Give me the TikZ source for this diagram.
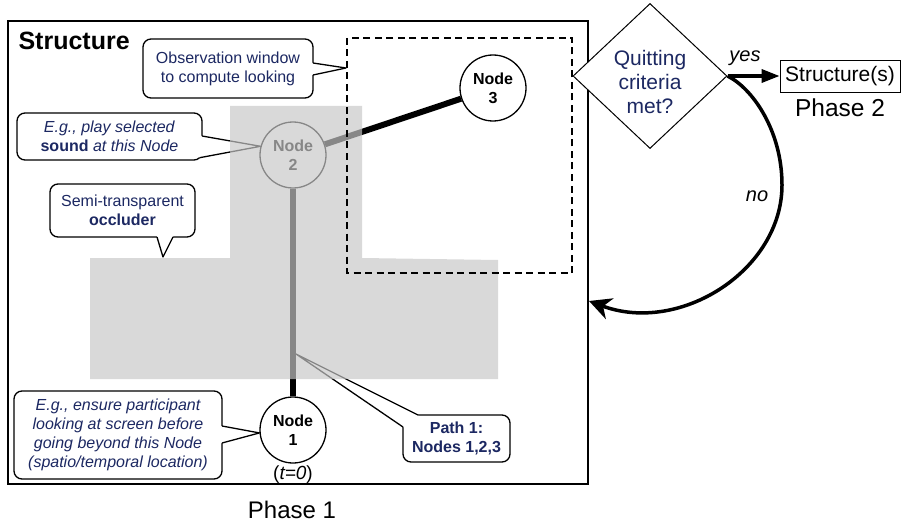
\documentclass[tikz,border=0pt]{standalone}
\usepackage{fontspec}
\setmainfont{Liberation Sans}
\usetikzlibrary{arrows.meta,shapes.geometric}
\definecolor{navy}{RGB}{28,40,98}
\definecolor{occl}{RGB}{199,199,199}
% balloon tail: #1 base point, #2 tip, #3 base point, #4/#5 the base points pushed inside the box
\newcommand\calltail[5]{%
  \fill[white] #4 -- #1 -- #2 -- #3 -- #5 -- cycle;
  \draw[line width=1.3pt,line join=round] #1 -- #2 -- #3;}
\begin{document}
\begin{tikzpicture}[x=1pt,y=-1pt,
  pnode/.style={circle,draw,line width=1.3pt,fill=white,minimum size=66pt,inner sep=0pt,align=center,font=\fontsize{16}{19}\selectfont\bfseries},
  callout/.style={draw,line width=1.3pt,rounded corners=8pt,fill=white,align=center,text=navy,font=\fontsize{16}{19}\selectfont,inner sep=0pt},
  pathedge/.style={line width=6pt},
  bigtext/.style={font=\fontsize{24}{28}\selectfont},
  labeltext/.style={font=\fontsize{20}{24}\selectfont\itshape},
  ]
\useasboundingbox (0,0) rectangle (902,524);

% frame of the structure
\draw[line width=1.5pt] (8,21) rectangle (588,484);
\node[anchor=base west,font=\fontsize{25}{28}\selectfont\bfseries] (title) at (15,50) {Structure};

% the three nodes of path 1 and their links
\node[pnode] (n1) at (293,430) {Node\\1};
\node[pnode] (n2) at (293,155) {Node\\2};
\node[pnode] (n3) at (493,88) {Node\\3};
\draw[pathedge] (n1) -- (n2);
\draw[pathedge] (n2) -- (n3);
\node[font=\fontsize{19}{22}\selectfont] (t0) at (293,475) {(\textit{t=0})};

% callouts
\node[callout,minimum width=170pt,minimum height=59pt] (c1) at (228,68.5) {Observation window\\to compute looking};
\node[callout,minimum width=185pt,minimum height=47pt] (c2) at (109.5,136.5) {\textit{E.g., play selected}\\\textbf{sound} \textit{at this Node}};
\node[callout,minimum width=145pt,minimum height=53pt] (c3) at (122.5,210.5) {Semi-transparent\\\textbf{occluder}};
\node[callout,minimum width=208pt,minimum height=88pt,font=\fontsize{16}{19}\selectfont\itshape] (c4) at (118,435) {E.g., ensure participant\\looking at screen before\\going beyond this Node\\(spatio/temporal location)};
\node[callout,minimum width=107pt,minimum height=47pt,font=\fontsize{16}{19}\selectfont\bfseries] (c5) at (456.5,438.5) {Path 1:\\Nodes 1,2,3};

\coordinate (w1) at (346,68);
\coordinate (oc) at (163,257);
\coordinate (p1) at (296,354);
\calltail{(313,63)}{(w1)}{(313,75)}{(310,63)}{(310,75)}
\calltail{(202,136)}{(n2.165)}{(199.7,157.7)}{(199,136)}{(197,155)}
\calltail{(157,237)}{(oc)}{(173,237)}{(157,234)}{(173,234)}
\calltail{(222,426)}{(n1.185)}{(222,443)}{(219,426)}{(219,443)}
\calltail{(418,415)}{(p1)}{(403,427)}{(418,418)}{(406,427)}

% semi-transparent occluder
\fill[occl,fill opacity=0.68] (230,106) -- (362,106) -- (362,258) -- (498,260) -- (498,379) -- (90,379) -- (90,258) -- (230,258) -- cycle;

% observation window
\draw[line width=2.2pt,dash pattern=on 7pt off 4.5pt] (347,38) rectangle (572,273);

% decision and phase 2
\node[diamond,draw,fill=white,line width=1pt,minimum width=154pt,minimum height=145pt,inner sep=0pt] (q) at (650,76) {};
\node[font=\fontsize{21}{24}\selectfont,text=navy,align=center] (qt) at (650,82) {Quitting\\criteria\\met?};
\node[draw,line width=0.8pt,minimum width=120pt,minimum height=32pt,inner sep=0pt,font=\fontsize{21}{24}\selectfont] (s2) at (840,76) {Structure(s)};
\node[bigtext,font=\fontsize{24.5}{28}\selectfont] (ph2) at (840,108) {Phase 2};
\node[bigtext] (ph1) at (292,510) {Phase 1};

\draw[line width=3.5pt,-{Triangle[length=18pt,width=13pt]}] (q.east) -- (s2.west);
\node[labeltext] (yes) at (745,58) {yes};

\coordinate (back) at (589,301);
\draw[line width=3.5pt,-{Stealth[length=22pt,width=22pt,inset=7pt]}] (q.east) .. controls (752,88) and (782,130) .. (782,185) .. controls (782,270) and (680,335) .. (back);
\node[labeltext] (no) at (757,196) {no};
\end{tikzpicture}
\end{document}
